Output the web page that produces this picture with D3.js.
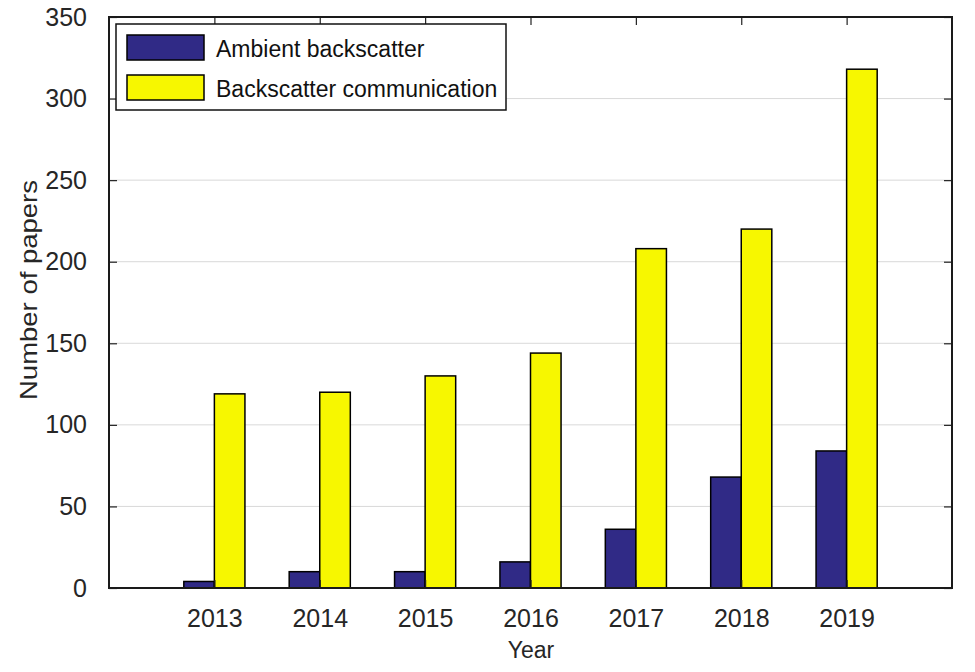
<!DOCTYPE html>
<html><head><meta charset="utf-8">
<script src="https://cdn.jsdelivr.net/npm/d3@7"></script>
<style>body{margin:0;background:#fff}text{font-family:"Liberation Sans",Arial,sans-serif}</style>
</head><body>
<svg id="c" width="975" height="672"></svg>
<script>
const years = [2013, 2014, 2015, 2016, 2017, 2018, 2019];
const ambient = [4, 10, 10, 16, 36, 68, 84];
const backscatter = [119, 120, 130, 144, 208, 220, 318];
const seriesNames = ["Ambient backscatter", "Backscatter communication"];
const seriesColors = ["#302a86", "#f7f700"];
const yTicks = [0, 50, 100, 150, 200, 250, 300, 350];

const svg = d3.select("#c");
const L = 109, R = 952, T = 17, B = 588;
const x = d3.scaleLinear().domain([2012, 2020]).range([L, R]);
const y = d3.scaleLinear().domain([0, 350]).range([B, T]);
const bw = 0.29;

// grid
svg.append("g").selectAll("line").data(yTicks.slice(1, -1)).join("line")
  .attr("x1", L).attr("x2", R).attr("y1", d => y(d)).attr("y2", d => y(d))
  .attr("stroke", "#d9d9d9").attr("stroke-width", 1);

// bars
const series = [ambient, backscatter];
series.forEach((vals, si) => {
  svg.append("g").selectAll("rect").data(years).join("rect")
    .attr("x", (d) => x(d + (si === 0 ? -bw : 0)))
    .attr("width", x(2012 + bw) - x(2012))
    .attr("y", (d, i) => y(vals[i]))
    .attr("height", (d, i) => y(0) - y(vals[i]))
    .attr("fill", seriesColors[si]).attr("stroke", "#000").attr("stroke-width", 1.5);
});

// axes
const tickLen = 8;
const axL = svg.append("g").attr("transform", `translate(${L},0)`)
  .call(d3.axisLeft(y).tickValues(yTicks).tickSize(-tickLen).tickPadding(14 + tickLen));
const axR = svg.append("g").attr("transform", `translate(${R},0)`)
  .call(d3.axisRight(y).tickValues(yTicks).tickSize(-tickLen).tickFormat(""));
const axB = svg.append("g").attr("transform", `translate(0,${B})`)
  .call(d3.axisBottom(x).tickValues(years).tickFormat(d3.format("d")).tickSize(-tickLen).tickPadding(0));
const axT = svg.append("g").attr("transform", `translate(0,${T})`)
  .call(d3.axisTop(x).tickValues(years).tickSize(-tickLen).tickFormat(""));
[axL, axR, axB, axT].forEach(a => {
  a.select(".domain").remove();
  a.selectAll(".tick line").attr("stroke", "#222").attr("stroke-width", 1.2);
  a.selectAll("text").attr("font-size", 25).attr("fill", "#262626")
    .attr("font-family", '"Liberation Sans",Arial,sans-serif');
});
axB.selectAll(".tick text").attr("y", 39).attr("dy", null);
svg.append("rect").attr("x", L).attr("y", T).attr("width", R - L).attr("height", B - T)
  .attr("fill", "none").attr("stroke", "#1a1a1a").attr("stroke-width", 2);

// axis labels
svg.append("text").attr("transform", `translate(37,290) rotate(-90)`)
  .attr("text-anchor", "middle").attr("font-size", 24).attr("fill", "#262626")
  .attr("textLength", 220).attr("lengthAdjust", "spacingAndGlyphs").text("Number of papers");
svg.append("text").attr("x", 531).attr("y", 658)
  .attr("text-anchor", "middle").attr("font-size", 23).attr("fill", "#262626").text("Year");

// legend
const lg = svg.append("g");
lg.append("rect").attr("x", 116).attr("y", 24).attr("width", 390).attr("height", 86)
  .attr("fill", "#fff").attr("stroke", "#111").attr("stroke-width", 1.5);
seriesNames.forEach((n, i) => {
  lg.append("rect").attr("x", 127).attr("y", 35 + i * 40).attr("width", 77).attr("height", 25)
    .attr("fill", seriesColors[i]).attr("stroke", "#000").attr("stroke-width", 1.5);
  lg.append("text").attr("x", 216).attr("y", 57 + i * 40).attr("font-size", 23)
    .attr("fill", "#111").text(n);
});
</script>
</body></html>
